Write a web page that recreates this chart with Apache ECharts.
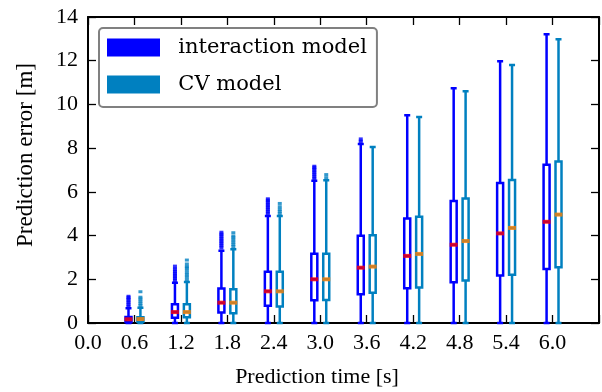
<!DOCTYPE html>
<html>
<head>
<meta charset="utf-8">
<script src="https://cdn.jsdelivr.net/npm/echarts@6/dist/echarts.min.js"></script>
<style>
  html, body { margin: 0; padding: 0; background: #fff; }
  #chart { width: 602px; height: 392px; }
</style>
</head>
<body>
<div id="chart"></div>
<script>
// prediction horizons [s]
const times = [0.6, 1.2, 1.8, 2.4, 3.0, 3.6, 4.2, 4.8, 5.4, 6.0];
const xTickLabels = ['0.0', '0.6', '1.2', '1.8', '2.4', '3.0', '3.6', '4.2', '4.8', '5.4', '6.0'];
const yTickLabels = ['0', '2', '4', '6', '8', '10', '12', '14'];

// [min, Q1, median, Q3, max]
const interactionBoxes = [
  [0, 0.05, 0.17, 0.28, 0.67],
  [0, 0.24, 0.5, 0.86, 1.84],
  [0, 0.48, 0.93, 1.58, 3.31],
  [0, 0.79, 1.45, 2.34, 4.9],
  [0, 1.04, 2.0, 3.17, 6.51],
  [0, 1.32, 2.53, 3.99, 8.19],
  [0, 1.59, 3.07, 4.78, 9.5],
  [0, 1.86, 3.58, 5.58, 10.74],
  [0, 2.17, 4.1, 6.4, 11.97],
  [0, 2.47, 4.63, 7.24, 13.21]
];
const cvBoxes = [
  [0, 0.06, 0.18, 0.26, 0.7],
  [0, 0.26, 0.5, 0.86, 1.88],
  [0, 0.45, 0.93, 1.54, 3.37],
  [0, 0.76, 1.45, 2.34, 4.9],
  [0, 1.05, 2.0, 3.17, 6.53],
  [0, 1.38, 2.58, 4.02, 8.05],
  [0, 1.62, 3.16, 4.86, 9.42],
  [0, 1.94, 3.75, 5.7, 10.6],
  [0, 2.21, 4.35, 6.54, 11.8],
  [0, 2.55, 4.96, 7.39, 12.98]
];

// outliers above the whiskers
const interactionFliers = [
  [0.75, 0.85, 0.95, 1.05, 1.15, 1.2],
  [1.95, 2.05, 2.15, 2.25, 2.35, 2.45, 2.58],
  [3.45, 3.55, 3.65, 3.75, 3.85, 3.95, 4.05, 4.13],
  [5.0, 5.1, 5.2, 5.3, 5.4, 5.5, 5.6, 5.66],
  [6.6, 6.7, 6.8, 6.9, 7.0, 7.1, 7.15],
  [8.3, 8.4],
  [], [], [], []
];
const cvFliers = [
  [0.8, 0.9, 1.0, 1.1, 1.18, 1.43],
  [1.98, 2.1, 2.2, 2.3, 2.42, 2.52, 2.58, 2.7, 2.88],
  [3.5, 3.6, 3.7, 3.8, 3.9, 3.98, 4.13],
  [5.0, 5.1, 5.2, 5.32, 5.47],
  [6.65, 6.79],
  [],
  [], [], [], []
];

const BLUE = '#0000ff';
const CYAN = '#0080c0';
const SERIF = '"Liberation Serif", serif';
const shift = 0.077; // boxes sit either side of the tick

const chart = echarts.init(document.getElementById('chart'));

const boxData = (boxes, dx) => times.map((t, i) => [t + dx].concat(boxes[i]));
const medianData = (boxes, dx) => times.map((t, i) => [t + dx, boxes[i][2]]);
const flierData = (fliers, dx) => {
  const out = [];
  times.forEach((t, i) => fliers[i].forEach(v => out.push([t + dx, v])));
  return out;
};

const xAxisBase = {
  type: 'value',
  min: 0,
  max: 6.6,
  interval: 0.6,
  axisLine: { show: true, onZero: false, lineStyle: { color: '#000', width: 2 } },
  axisTick: { show: true, inside: true, length: 8, lineStyle: { color: '#000', width: 1.3 } },
  splitLine: { show: false },
};
const yAxisBase = {
  type: 'value',
  min: 0,
  max: 14,
  interval: 2,
  axisLine: { show: true, onZero: false, lineStyle: { color: '#000', width: 2 } },
  axisTick: { show: true, inside: true, length: 8, lineStyle: { color: '#000', width: 1.3 } },
  splitLine: { show: false },
};

const boxSeries = (name, color, boxes, dx, axis) => ({
  name: name,
  type: 'boxplot',
  xAxisIndex: axis,
  boxWidth: [6, 6],
  data: boxData(boxes, dx),
  itemStyle: { color: '#fff', borderColor: color, borderWidth: 2.5 },
  emphasis: { disabled: true },
  silent: true,
});
const markSeries = (name, color, data, size, axis) => ({
  name: name,
  type: 'scatter',
  xAxisIndex: axis,
  symbol: 'rect',
  symbolSize: size,
  data: data,
  itemStyle: { color: color },
  emphasis: { disabled: true },
  silent: true,
  z: 3,
});

const option = {
  animation: false,
  grid: { left: 88, right: 2.5, top: 17, bottom: 69 },
  xAxis: [
    Object.assign({}, xAxisBase, {
      position: 'bottom',
      axisLabel: {
        color: '#000', fontFamily: SERIF, fontSize: 22, margin: 9,
        formatter: v => xTickLabels[Math.round(v / 0.6)] || '',
      },
    }),
    Object.assign({}, xAxisBase, { position: 'top', axisLabel: { show: false } }),
  ],
  yAxis: [
    Object.assign({}, yAxisBase, {
      position: 'left',
      axisLabel: {
        color: '#000', fontFamily: SERIF, fontSize: 22, margin: 10,
        formatter: v => yTickLabels[Math.round(v / 2)] || '',
      },
    }),
    Object.assign({}, yAxisBase, { position: 'right', axisLabel: { show: false } }),
  ],
  legend: {
    orient: 'vertical',
    left: 99,
    top: 28,
    itemWidth: 53,
    itemHeight: 18,
    itemGap: 16,
    padding: [9, 10, 12, 8],
    backgroundColor: '#fff',
    borderColor: '#808080',
    borderWidth: 2,
    borderRadius: 4,
    icon: 'rect',
    selectedMode: false,
    formatter: n => '  ' + n,
    textStyle: { fontFamily: '"DejaVu Serif", serif', fontSize: 21, color: '#000', lineHeight: 18 },
    data: [
      { name: 'interaction model', itemStyle: { color: BLUE, borderWidth: 0 } },
      { name: 'CV model', itemStyle: { color: CYAN, borderWidth: 0 } },
    ],
  },
  graphic: [
    {
      type: 'text', x: 317, y: 377,
      style: { text: 'Prediction time [s]', font: '22px ' + SERIF, fill: '#000', align: 'center', verticalAlign: 'middle' },
    },
    {
      type: 'text', x: 26, y: 155, rotation: Math.PI / 2,
      style: { text: 'Prediction error [m]', font: '23px ' + SERIF, fill: '#000', align: 'center', verticalAlign: 'middle' },
    },
  ],
  series: [
    boxSeries('interaction model', BLUE, interactionBoxes, -shift, 0),
    boxSeries('CV model', CYAN, cvBoxes, shift, 1),
    markSeries('int fliers', BLUE, flierData(interactionFliers, -shift), [4, 4], 0),
    markSeries('cv fliers', CYAN, flierData(cvFliers, shift), [4, 3], 1),
    markSeries('int median', '#ff0000', medianData(interactionBoxes, -shift), [8, 4], 0),
    markSeries('cv median', '#ff8000', medianData(cvBoxes, shift), [8, 4], 1),
  ],
};

chart.setOption(option);
window.addEventListener('resize', () => {
  chart.resize();
});
</script>
</body>
</html>
